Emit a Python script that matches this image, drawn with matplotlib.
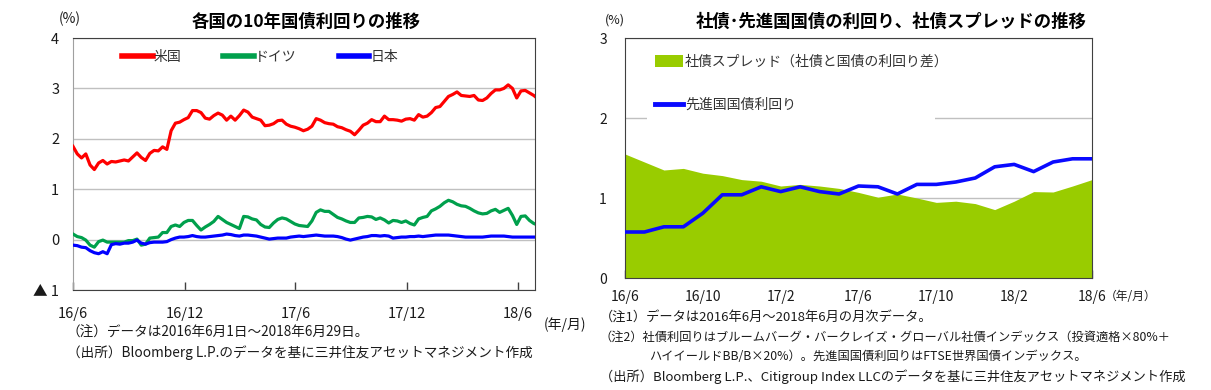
import matplotlib
matplotlib.use('Agg')
import matplotlib.pyplot as plt
import matplotlib.patches as mpatches
from matplotlib.lines import Line2D
import pandas as pd
import numpy as np

plt.rcParams['font.family'] = ['Noto Sans CJK JP', 'DejaVu Sans']

# ---------------- data: left chart (weekly readings, 2016/6/1 - 2018/6/29) ----------------
week_start = '2016-06-01'
week_count = 109
last_day = '2018-06-29'

us_yield = [1.85, 1.70, 1.62, 1.70, 1.48, 1.39, 1.52, 1.57, 1.50, 1.55,
            1.54, 1.56, 1.58, 1.56, 1.64, 1.72, 1.63, 1.57, 1.71, 1.77,
            1.76, 1.84, 1.79, 2.16, 2.31, 2.33, 2.38, 2.42, 2.56, 2.56,
            2.52, 2.41, 2.39, 2.46, 2.51, 2.47, 2.37, 2.45, 2.37, 2.46,
            2.57, 2.53, 2.43, 2.40, 2.37, 2.26, 2.27, 2.30, 2.36, 2.37,
            2.29, 2.25, 2.23, 2.20, 2.16, 2.19, 2.25, 2.40, 2.37, 2.32,
            2.30, 2.29, 2.24, 2.22, 2.18, 2.15, 2.08, 2.17, 2.27, 2.31,
            2.38, 2.34, 2.34, 2.45, 2.38, 2.38, 2.37, 2.35, 2.39, 2.40,
            2.37, 2.48, 2.43, 2.45, 2.52, 2.62, 2.64, 2.74, 2.84, 2.88,
            2.93, 2.86, 2.85, 2.84, 2.86, 2.77, 2.76, 2.81, 2.90, 2.97,
            2.97, 3.00, 3.07, 3.00, 2.81, 2.95, 2.96, 2.91, 2.86, 2.84]

de_yield = [0.11, 0.06, 0.04, -0.01, -0.11, -0.15, -0.04, -0.01, -0.05, -0.05,
            -0.05, -0.05, -0.05, -0.02, -0.02, 0.01, -0.11, -0.09, 0.03, 0.04,
            0.05, 0.14, 0.14, 0.26, 0.29, 0.26, 0.34, 0.38, 0.38, 0.28,
            0.19, 0.25, 0.30, 0.36, 0.46, 0.40, 0.34, 0.30, 0.26, 0.22,
            0.46, 0.45, 0.41, 0.39, 0.30, 0.25, 0.24, 0.33, 0.40, 0.43,
            0.41, 0.36, 0.31, 0.28, 0.27, 0.26, 0.37, 0.54, 0.59, 0.56,
            0.56, 0.50, 0.44, 0.41, 0.37, 0.34, 0.34, 0.43, 0.44, 0.46,
            0.45, 0.40, 0.43, 0.39, 0.33, 0.38, 0.37, 0.34, 0.37, 0.32,
            0.29, 0.41, 0.44, 0.46, 0.57, 0.61, 0.66, 0.73, 0.78, 0.75,
            0.70, 0.67, 0.66, 0.62, 0.57, 0.53, 0.51, 0.52, 0.57, 0.60,
            0.54, 0.58, 0.62, 0.48, 0.30, 0.46, 0.47, 0.38, 0.32, 0.31]

jp_yield = [-0.11, -0.12, -0.15, -0.16, -0.22, -0.26, -0.28, -0.24, -0.28, -0.10,
            -0.08, -0.09, -0.07, -0.07, -0.05, -0.01, -0.07, -0.09, -0.06, -0.05,
            -0.05, -0.05, -0.04, 0.00, 0.03, 0.05, 0.05, 0.06, 0.08, 0.06,
            0.05, 0.05, 0.06, 0.07, 0.08, 0.09, 0.11, 0.10, 0.08, 0.07,
            0.09, 0.09, 0.08, 0.07, 0.05, 0.03, 0.01, 0.02, 0.03, 0.03,
            0.03, 0.05, 0.06, 0.07, 0.06, 0.07, 0.08, 0.09, 0.08, 0.07,
            0.07, 0.07, 0.06, 0.04, 0.01, -0.01, 0.01, 0.03, 0.05, 0.06,
            0.08, 0.08, 0.07, 0.08, 0.07, 0.03, 0.04, 0.05, 0.05, 0.06,
            0.06, 0.07, 0.06, 0.07, 0.08, 0.09, 0.09, 0.09, 0.09, 0.08,
            0.07, 0.06, 0.05, 0.05, 0.05, 0.05, 0.05, 0.06, 0.07, 0.07,
            0.07, 0.07, 0.06, 0.05, 0.05, 0.05, 0.05, 0.05, 0.05, 0.05]

left_tick_dates = ['2016-06-01', '2016-12-01', '2017-06-01', '2017-12-01', '2018-06-01']
left_tick_labels = ['16/6', '16/12', '17/6', '17/12', '18/6']
left_yticks = [4, 3, 2, 1, 0, -1]
left_ylabels = ['4', '3', '2', '1', '0', '▲ 1']
left_series_names = ['米国', 'ドイツ', '日本']

# ---------------- data: right chart (monthly 2016/6 - 2018/6) ----------------
months = ['16/6', '16/7', '16/8', '16/9', '16/10', '16/11', '16/12',
          '17/1', '17/2', '17/3', '17/4', '17/5', '17/6', '17/7', '17/8',
          '17/9', '17/10', '17/11', '17/12', '18/1', '18/2', '18/3', '18/4',
          '18/5', '18/6']
spread = [1.55, 1.45, 1.35, 1.37, 1.31, 1.28, 1.23, 1.21, 1.15, 1.17, 1.15, 1.12, 1.07,
          1.01, 1.05, 1.00, 0.945, 0.96, 0.93, 0.855, 0.96, 1.08, 1.075, 1.15, 1.23]
dm_yield = [0.575, 0.575, 0.64, 0.64, 0.81, 1.04, 1.04, 1.14, 1.08, 1.14, 1.08, 1.05, 1.15,
            1.14, 1.05, 1.17, 1.17, 1.20, 1.25, 1.39, 1.42, 1.33, 1.45, 1.49, 1.49]
right_series_names = ['社債スプレッド（社債と国債の利回り差）', '先進国国債利回り']

# ---------------- figure ----------------
W, H = 1211, 390
fig = plt.figure(figsize=(W / 100, H / 100), dpi=100)

def fx(px):
    return px / W

def fy(py):
    return 1 - py / H

TXT = '#1a1a1a'
GRID = '#c0c0c0'
SPINE = '#404040'

# ---- left chart ----
dates = pd.date_range(week_start, periods=week_count, freq='7D').append(pd.DatetimeIndex([last_day]))
ax1 = fig.add_axes([fx(73), fy(290), fx(462), 252 / H])
c_us, c_de, c_jp = '#ff0000', '#00a04c', '#0000ff'
ax1.plot(dates, de_yield, color=c_de, lw=2.3, solid_joinstyle='round', zorder=3)
ax1.plot(dates, jp_yield, color=c_jp, lw=2.3, solid_joinstyle='round', zorder=4)
ax1.plot(dates, us_yield, color=c_us, lw=2.3, solid_joinstyle='round', zorder=5)
ax1.set_xlim(pd.Timestamp(week_start), pd.Timestamp(last_day))
ax1.set_ylim(-1, 4)
ax1.set_yticks(left_yticks)
ax1.set_yticklabels(left_ylabels)
ax1.set_xticks(pd.to_datetime(left_tick_dates))
ax1.set_xticklabels(left_tick_labels)
ax1.yaxis.grid(True, color=GRID, lw=1)
ax1.set_axisbelow(True)
ax1.tick_params(axis='y', length=0, pad=10, labelsize=10.5, labelcolor=TXT)
ax1.tick_params(axis='x', direction='in', length=6, width=1, color=SPINE, pad=12,
                labelsize=10.5, labelcolor=TXT)
for s in ['top', 'right', 'bottom']:
    ax1.spines[s].set_color(SPINE)
ax1.spines['left'].set_color('#a0a0a0')

h1 = [Line2D([], [], color=c, lw=4) for c in (c_us, c_de, c_jp)]
ax1.legend(h1, left_series_names, loc='upper left', bbox_to_anchor=((122 - 73) / 462, (290 - 50) / 252),
           ncol=3, frameon=False, borderaxespad=0, borderpad=0, handlelength=2.2,
           handletextpad=0.1, columnspacing=3.0, fontsize=10, labelcolor='#333333')

fig.text(fx(70), fy(19), '(%)', ha='center', va='center', fontsize=10, color=TXT)
fig.text(fx(306), fy(22), '各国の10年国債利回りの推移', ha='center', va='center',
         fontsize=12.5, fontweight='bold', color='#000000')
fig.text(fx(565), fy(325), '(年/月)', ha='center', va='center', fontsize=10, color=TXT)
fig.text(fx(67), fy(333), '（注）データは2016年6月1日～2018年6月29日。', ha='left', va='center',
         fontsize=9.8, color=TXT)
fig.text(fx(67), fy(353), '（出所）Bloomberg L.P.のデータを基に三井住友アセットマネジメント作成',
         ha='left', va='center', fontsize=9.8, color=TXT)

# ---- right chart ----
ax2 = fig.add_axes([fx(625), fy(278), fx(467), 240 / H])
xi = np.arange(len(months))
c_sp, c_dm = '#99cc00', '#0a0aff'
ax2.fill_between(xi, 0, spread, color=c_sp, lw=0, zorder=2)
ax2.plot(xi, dm_yield, color=c_dm, lw=2.6, solid_joinstyle='round', zorder=4)
ax2.set_xlim(0, len(months) - 1)
ax2.set_ylim(0, 3)
ax2.set_yticks([0, 1, 2, 3])
ax2.set_yticklabels(['0', '1', '2', '3'])
ax2.set_xticks(xi[::4])
ax2.set_xticklabels(months[::4])
ax2.yaxis.grid(True, color=GRID, lw=1)
ax2.set_axisbelow(True)
ax2.tick_params(axis='y', length=0, pad=13, labelsize=10, labelcolor=TXT)
ax2.tick_params(axis='x', direction='in', length=6, width=1, color=SPINE, pad=9,
                labelsize=10, labelcolor=TXT)
for s in ['top', 'right', 'bottom', 'left']:
    ax2.spines[s].set_color(SPINE)

# white legend background (covers grid line as in the reference)
ax2.add_patch(mpatches.Rectangle(((647 - 625) / 467, (278 - 124) / 240), (935 - 647) / 467, (124 - 45) / 240,
                                 transform=ax2.transAxes, facecolor='white', edgecolor='none', zorder=1))
h2 = [mpatches.Patch(facecolor=c_sp, edgecolor='none'), Line2D([], [], color=c_dm, lw=3.5)]
ax2.legend(h2, right_series_names, loc='upper left', bbox_to_anchor=((655 - 625) / 467, (278 - 55) / 240),
           frameon=False, borderaxespad=0, borderpad=0, handlelength=2.0, handleheight=0.9,
           handletextpad=0.15, labelspacing=2.1, fontsize=10, labelcolor='#333333')

fig.text(fx(615), fy(20), '(%)', ha='center', va='center', fontsize=9, color=TXT)
fig.text(fx(891), fy(22), '社債･先進国国債の利回り、社債スプレッドの推移', ha='center', va='center',
         fontsize=12.5, fontweight='bold', color='#000000')
fig.text(fx(1105), fy(297), '（年/月）', ha='left', va='center', fontsize=8.5, color=TXT)
fig.text(fx(600), fy(317), '（注1）データは2016年6月～2018年6月の月次データ。', ha='left', va='center',
         fontsize=9.5, color=TXT)
fig.text(fx(600), fy(337), '（注2）社債利回りはブルームバーグ・バークレイズ・グローバル社債インデックス（投資適格×80%＋',
         ha='left', va='center', fontsize=8.8, color=TXT)
fig.text(fx(649), fy(357), 'ハイイールドBB/B×20%）。先進国国債利回りはFTSE世界国債インデックス。',
         ha='left', va='center', fontsize=8.8, color=TXT)
fig.text(fx(600), fy(377), '（出所）Bloomberg L.P.、Citigroup Index LLCのデータを基に三井住友アセットマネジメント作成',
         ha='left', va='center', fontsize=9.5, color=TXT)

fig.savefig('out.png', dpi=100, facecolor='white')
